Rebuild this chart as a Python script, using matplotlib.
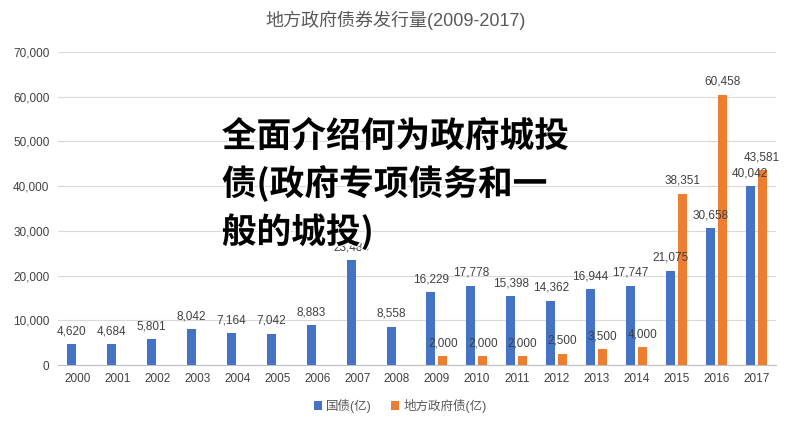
import matplotlib
matplotlib.use("Agg")
import matplotlib.pyplot as plt
import matplotlib.patheffects as pe
import numpy as np

plt.rcParams['font.family'] = ['Liberation Sans', 'Noto Sans CJK SC', 'DejaVu Sans']

years = [str(y) for y in range(2000, 2018)]
guozhai = [4620, 4684, 5801, 8042, 7164, 7042, 8883, 23483, 8558, 16229,
           17778, 15398, 14362, 16944, 17747, 21075, 30658, 40042]
difang = [None] * 9 + [2000, 2000, 2000, 2500, 3500, 4000, 38351, 60458, 43581]

series_names = ['国债(亿)', '地方政府债(亿)']
colors = ['#4472C4', '#ED7D31']
title = '地方政府债券发行量(2009-2017)'
overlay = '全面介绍何为政府城投\n债(政府专项债务和一\n般的城投)'

fig = plt.figure(figsize=(7.92, 4.26), dpi=100)
ax = fig.add_axes([0.073, 0.143, 0.907, 0.735])

x = np.arange(len(years))
w = 0.225
off = 0.15
gx = x - off
dx = [xi + off for xi, v in zip(x, difang) if v is not None]
dv = [v for v in difang if v is not None]

b1 = ax.bar(gx, guozhai, width=w, color=colors[0], label=series_names[0], zorder=2)
b2 = ax.bar(dx, dv, width=w, color=colors[1], label=series_names[1], zorder=2)

for rect, v in zip(b1, guozhai):
    ax.annotate(f'{v:,}', (rect.get_x() + rect.get_width() / 2, v),
                xytext=(0, 5), textcoords='offset points',
                ha='center', va='bottom', fontsize=8.5, color='#404040', zorder=3)
for rect, v in zip(b2, dv):
    ax.annotate(f'{v:,}', (rect.get_x() + rect.get_width() / 2, v),
                xytext=(0, 5), textcoords='offset points',
                ha='center', va='bottom', fontsize=8.5, color='#404040', zorder=3)

ax.set_xlim(-0.5, len(years) - 0.5)
ax.set_ylim(0, 70000)
ax.set_yticks(np.arange(0, 70001, 10000))
ax.set_yticklabels([f'{v:,}' for v in range(0, 70001, 10000)])
ax.set_xticks(x)
ax.set_xticklabels(years)
ax.tick_params(axis='both', length=0, labelsize=8.5, colors='#404040', pad=6)
ax.grid(axis='y', color='#d9d9d9', linewidth=0.8, zorder=0)
for s in ['top', 'right', 'left']:
    ax.spines[s].set_visible(False)
ax.spines['bottom'].set_color('#bfbfbf')

fig.text(0.5, 0.953, title, ha='center', va='center', fontsize=13, color='#595959')

leg = fig.legend(handles=[b1, b2], labels=series_names, loc='center',
                 bbox_to_anchor=(0.505, 0.047), ncol=2, frameon=False,
                 fontsize=9, handlelength=0.7, handleheight=0.7,
                 handletextpad=0.3, columnspacing=1.5)
for t in leg.get_texts():
    t.set_color('#595959')

fig.text(0.28, 0.567, overlay, ha='left', va='center', fontsize=25,
         fontweight='heavy', color='black', linespacing=1.38,
         family=['Noto Sans CJK SC', 'DejaVu Sans'],
         path_effects=[pe.withStroke(linewidth=2, foreground='white')], zorder=10)

fig.savefig('out.png', dpi=100)
